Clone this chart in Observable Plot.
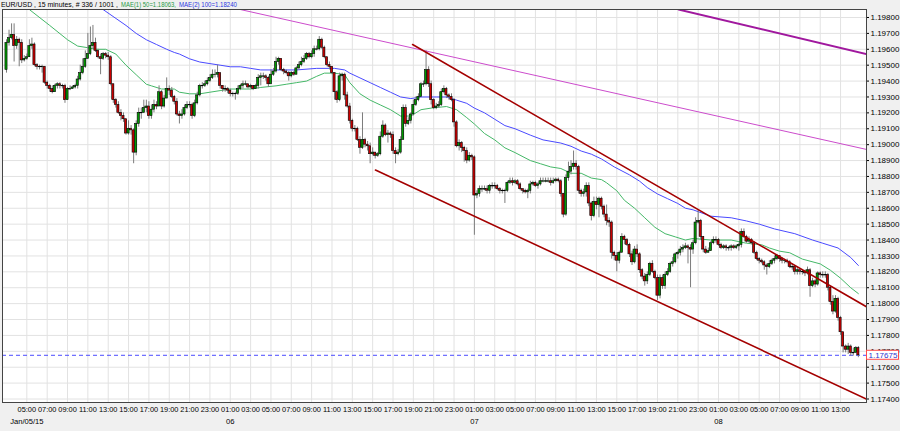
<!DOCTYPE html>
<html><head><meta charset="utf-8">
<script src="https://cdn.jsdelivr.net/npm/d3@7"></script>
<script src="https://cdn.jsdelivr.net/npm/@observablehq/plot@0.6"></script>
<style>
html,body{margin:0;padding:0;background:#f0f0f0;}
#chart{width:900px;height:431px;}
</style></head><body><div id="chart"></div>
<script>
// ---- data (EUR/USD, 15-minute candles, 336 bars) ----
const firstOpen = 1.1947;
const closes = [
1.1964,1.1967,1.1969,1.1962,1.1966,1.1964,1.1953,1.1954,1.1955,1.1962,
1.1963,1.1950,1.1949,1.1949,1.1949,1.1939,1.1937,1.1935,1.1933,1.1937,
1.1938,1.1937,1.1937,1.1928,1.1935,1.1935,1.1936,1.1937,1.1941,1.1945,
1.1949,1.1954,1.1957,1.1962,1.1964,1.1959,1.1955,1.1954,1.1957,1.1956,
1.1955,1.1938,1.1928,1.1925,1.1920,1.1918,1.1916,1.1907,1.1910,1.1909,
1.1895,1.1913,1.1920,1.1920,1.1923,1.1924,1.1918,1.1922,1.1925,1.1924,
1.1933,1.1924,1.1929,1.1935,1.1934,1.1930,1.1927,1.1919,1.1918,1.1919,
1.1923,1.1925,1.1925,1.1918,1.1926,1.1931,1.1937,1.1937,1.1938,1.1940,
1.1942,1.1944,1.1944,1.1945,1.1937,1.1935,1.1935,1.1934,1.1932,1.1932,
1.1932,1.1935,1.1937,1.1938,1.1938,1.1936,1.1937,1.1935,1.1937,1.1942,
1.1943,1.1943,1.1942,1.1938,1.1944,1.1946,1.1952,1.1954,1.1947,1.1946,
1.1945,1.1943,1.1945,1.1944,1.1948,1.1950,1.1952,1.1954,1.1957,1.1955,
1.1957,1.1960,1.1960,1.1966,1.1961,1.1955,1.1950,1.1949,1.1945,1.1933,
1.1928,1.1943,1.1944,1.1931,1.1924,1.1915,1.1910,1.1910,1.1903,1.1898,
1.1903,1.1900,1.1899,1.1894,1.1895,1.1893,1.1894,1.1905,1.1912,1.1906,
1.1907,1.1906,1.1896,1.1894,1.1895,1.1903,1.1923,1.1913,1.1915,1.1919,
1.1925,1.1928,1.1930,1.1938,1.1938,1.1947,1.1938,1.1928,1.1923,1.1924,
1.1925,1.1933,1.1935,1.1931,1.1930,1.1928,1.1914,1.1899,1.1901,1.1898,
1.1896,1.1890,1.1893,1.1892,1.1868,1.1869,1.1872,1.1872,1.1872,1.1871,
1.1874,1.1874,1.1874,1.1872,1.1871,1.1871,1.1871,1.1876,1.1877,1.1876,
1.1877,1.1875,1.1872,1.1871,1.1870,1.1871,1.1875,1.1876,1.1874,1.1875,
1.1877,1.1877,1.1877,1.1877,1.1876,1.1877,1.1878,1.1877,1.1869,1.1856,
1.1879,1.1883,1.1886,1.1888,1.1886,1.1871,1.1869,1.1870,1.1874,1.1863,
1.1855,1.1864,1.1862,1.1866,1.1861,1.1856,1.1852,1.1851,1.1832,1.1830,
1.1827,1.1832,1.1842,1.1840,1.1837,1.1831,1.1826,1.1834,1.1831,1.1821,
1.1817,1.1814,1.1818,1.1825,1.1820,1.1816,1.1805,1.1816,1.1811,1.1818,
1.1820,1.1825,1.1826,1.1831,1.1832,1.1834,1.1835,1.1836,1.1835,1.1834,
1.1838,1.1851,1.1852,1.1842,1.1834,1.1832,1.1833,1.1838,1.1840,1.1840,
1.1837,1.1835,1.1836,1.1835,1.1835,1.1836,1.1835,1.1836,1.1837,1.1845,
1.1842,1.1839,1.1840,1.1838,1.1832,1.1828,1.1827,1.1826,1.1824,1.1823,
1.1825,1.1827,1.1828,1.1830,1.1828,1.1827,1.1827,1.1826,1.1823,1.1823,
1.1820,1.1821,1.1820,1.1820,1.1819,1.1821,1.1811,1.1814,1.1812,1.1819,
1.1818,1.1818,1.1818,1.1810,1.1801,1.1795,1.1803,1.1791,1.1782,1.1773,
1.1771,1.1773,1.1769,1.1769,1.1772,1.17675];
const highs = [
1.1966,1.1972,1.1976,1.1976,1.1968,1.1967,1.1966,1.1956,1.1957,1.1966,
1.1967,1.1964,1.1951,1.1950,1.1950,1.1949,1.1940,1.1938,1.1937,1.1938,
1.1939,1.1939,1.1938,1.1938,1.1936,1.1937,1.1937,1.1938,1.1943,1.1950,
1.1954,1.1959,1.1970,1.1974,1.1975,1.1967,1.1960,1.1957,1.1958,1.1958,
1.1958,1.1956,1.1938,1.1929,1.1927,1.1922,1.1920,1.1916,1.1915,1.1912,
1.1910,1.1915,1.1923,1.1923,1.1928,1.1928,1.1927,1.1925,1.1928,1.1927,
1.1937,1.1934,1.1931,1.1942,1.1937,1.1936,1.1931,1.1929,1.1921,1.1922,
1.1925,1.1927,1.1927,1.1926,1.1928,1.1933,1.1938,1.1939,1.1940,1.1942,
1.1944,1.1947,1.1947,1.1950,1.1945,1.1937,1.1937,1.1936,1.1935,1.1933,
1.1933,1.1937,1.1938,1.1940,1.1940,1.1938,1.1938,1.1937,1.1938,1.1944,
1.1945,1.1945,1.1944,1.1943,1.1947,1.1948,1.1955,1.1955,1.1954,1.1948,
1.1947,1.1946,1.1946,1.1946,1.1949,1.1952,1.1955,1.1956,1.1958,1.1958,
1.1959,1.1962,1.1962,1.1968,1.1967,1.1962,1.1955,1.1952,1.1949,1.1945,
1.1934,1.1945,1.1945,1.1945,1.1933,1.1926,1.1916,1.1912,1.1911,1.1905,
1.1920,1.1904,1.1902,1.1901,1.1898,1.1895,1.1895,1.1908,1.1915,1.1913,
1.1909,1.1908,1.1908,1.1898,1.1897,1.1905,1.1925,1.1925,1.1917,1.1920,
1.1928,1.1930,1.1932,1.1939,1.1940,1.1959,1.1949,1.1940,1.1929,1.1926,
1.1927,1.1935,1.1937,1.1936,1.1932,1.1932,1.1929,1.1915,1.1903,1.1902,
1.1899,1.1898,1.1895,1.1894,1.1893,1.1871,1.1874,1.1874,1.1874,1.1874,
1.1875,1.1876,1.1876,1.1875,1.1873,1.1872,1.1872,1.1877,1.1879,1.1879,
1.1878,1.1878,1.1876,1.1872,1.1872,1.1872,1.1877,1.1877,1.1877,1.1876,
1.1879,1.1879,1.1879,1.1879,1.1879,1.1879,1.1879,1.1879,1.1878,1.1869,
1.1881,1.1889,1.1890,1.1896,1.1890,1.1887,1.1872,1.1872,1.1876,1.1876,
1.1864,1.1867,1.1867,1.1867,1.1867,1.1862,1.1862,1.1854,1.1852,1.1833,
1.1832,1.1833,1.1844,1.1843,1.1841,1.1838,1.1833,1.1836,1.1837,1.1832,
1.1822,1.1819,1.1820,1.1826,1.1827,1.1821,1.1818,1.1818,1.1818,1.1820,
1.1822,1.1826,1.1829,1.1832,1.1833,1.1836,1.1837,1.1838,1.1837,1.1837,
1.1840,1.1854,1.1859,1.1853,1.1842,1.1836,1.1835,1.1839,1.1842,1.1842,
1.1841,1.1838,1.1837,1.1837,1.1836,1.1837,1.1837,1.1837,1.1838,1.1847,
1.1847,1.1843,1.1842,1.1841,1.1839,1.1833,1.1829,1.1828,1.1827,1.1825,
1.1827,1.1828,1.1830,1.1831,1.1830,1.1829,1.1828,1.1828,1.1827,1.1825,
1.1824,1.1823,1.1821,1.1821,1.1821,1.1823,1.1822,1.1816,1.1815,1.1820,
1.1820,1.1820,1.1820,1.1819,1.1811,1.1805,1.1805,1.1804,1.1792,1.1782,
1.1774,1.1775,1.1774,1.1772,1.1773,1.1773];
const lows = [
1.1945,1.1962,1.1966,1.1952,1.1960,1.1949,1.1951,1.1952,1.1953,1.1955,
1.1960,1.1949,1.1947,1.1947,1.1945,1.1938,1.1935,1.1933,1.1932,1.1933,
1.1935,1.1935,1.1935,1.1926,1.1928,1.1934,1.1935,1.1935,1.1935,1.1940,
1.1944,1.1948,1.1954,1.1956,1.1960,1.1958,1.1954,1.1944,1.1953,1.1954,
1.1953,1.1937,1.1926,1.1923,1.1919,1.1915,1.1914,1.1906,1.1906,1.1906,
1.1888,1.1893,1.1911,1.1916,1.1920,1.1920,1.1916,1.1916,1.1920,1.1922,
1.1924,1.1922,1.1923,1.1929,1.1931,1.1929,1.1925,1.1918,1.1913,1.1916,
1.1918,1.1922,1.1923,1.1916,1.1917,1.1925,1.1930,1.1935,1.1936,1.1937,
1.1939,1.1941,1.1942,1.1942,1.1935,1.1933,1.1933,1.1932,1.1930,1.1930,
1.1928,1.1931,1.1934,1.1935,1.1937,1.1935,1.1935,1.1934,1.1935,1.1935,
1.1937,1.1941,1.1940,1.1936,1.1938,1.1943,1.1945,1.1950,1.1946,1.1944,
1.1944,1.1940,1.1942,1.1943,1.1944,1.1947,1.1949,1.1951,1.1953,1.1954,
1.1954,1.1955,1.1959,1.1959,1.1960,1.1954,1.1949,1.1947,1.1944,1.1928,
1.1926,1.1927,1.1940,1.1928,1.1923,1.1913,1.1908,1.1908,1.1902,1.1894,
1.1897,1.1898,1.1896,1.1888,1.1893,1.1891,1.1892,1.1893,1.1904,1.1905,
1.1901,1.1904,1.1894,1.1888,1.1893,1.1894,1.1903,1.1911,1.1912,1.1913,
1.1918,1.1924,1.1927,1.1930,1.1936,1.1937,1.1936,1.1925,1.1922,1.1922,
1.1923,1.1924,1.1932,1.1929,1.1928,1.1927,1.1911,1.1898,1.1896,1.1895,
1.1889,1.1888,1.1889,1.1890,1.1843,1.1866,1.1867,1.1870,1.1871,1.1869,
1.1869,1.1872,1.1872,1.1871,1.1869,1.1869,1.1863,1.1870,1.1875,1.1874,
1.1875,1.1874,1.1871,1.1869,1.1869,1.1866,1.1869,1.1874,1.1873,1.1872,
1.1874,1.1876,1.1876,1.1876,1.1874,1.1875,1.1876,1.1876,1.1867,1.1854,
1.1855,1.1877,1.1881,1.1884,1.1884,1.1869,1.1867,1.1867,1.1867,1.1861,
1.1852,1.1854,1.1859,1.1854,1.1859,1.1854,1.1849,1.1848,1.1828,1.1827,
1.1820,1.1825,1.1832,1.1837,1.1836,1.1829,1.1824,1.1825,1.1829,1.1819,
1.1815,1.1811,1.1812,1.1817,1.1819,1.1815,1.1802,1.1803,1.1809,1.1809,
1.1817,1.1819,1.1823,1.1825,1.1828,1.1830,1.1832,1.1834,1.1825,1.1810,
1.1831,1.1837,1.1850,1.1840,1.1832,1.1831,1.1832,1.1833,1.1837,1.1838,
1.1836,1.1834,1.1834,1.1833,1.1833,1.1833,1.1834,1.1834,1.1833,1.1835,
1.1841,1.1838,1.1838,1.1837,1.1831,1.1827,1.1825,1.1825,1.1821,1.1818,
1.1822,1.1824,1.1825,1.1827,1.1826,1.1825,1.1825,1.1825,1.1822,1.1821,
1.1818,1.1818,1.1818,1.1818,1.1817,1.1818,1.1804,1.1810,1.1810,1.1811,
1.1816,1.1816,1.1816,1.1808,1.1799,1.1793,1.1794,1.1789,1.1780,1.1769,
1.1769,1.1768,1.1767,1.1767,1.1769,1.1766];

// moving averages (bar index, value)
const ma50Idx = [6,9,17,24,28,32,35,39,43,47,51,55,57,61,66,68,72,76,80,84,88,92,96,100,106,110,114,118,122,125,129,133,135,139,143,147,151,155,159,163,167,173,177,181,184,188,192,196,200,206,210,214,218,222,226,230,234,236,240,243,247,251,255,259,263,267,270,277,285,291,297,300,304,308,313,320,324,328,332,335];
const ma50Val = [1.1990,1.1985,1.1975,1.1966,1.1962,1.1961,1.1960,1.1960,1.1957,1.1950,1.1944,1.1938,1.1937,1.1935,1.1935,1.1933,1.1932,1.1932,1.1933,1.1934,1.1935,1.1935,1.1935,1.1936,1.1937,1.1938,1.1939,1.1940,1.1943,1.1945,1.1945,1.1944,1.1939,1.1932,1.1928,1.1925,1.1922,1.1918,1.1918,1.1922,1.1923,1.1924,1.1922,1.1917,1.1913,1.1907,1.1903,1.1898,1.1895,1.1890,1.1888,1.1886,1.1885,1.1882,1.1882,1.1879,1.1878,1.1876,1.1871,1.1865,1.1860,1.1854,1.1848,1.1844,1.1842,1.1840,1.1841,1.1840,1.1840,1.1838,1.1837,1.1835,1.1833,1.1832,1.1828,1.1825,1.1821,1.1816,1.1810,1.18063];
const ma100Idx = [34,38,47,51,55,59,63,66,68,72,76,80,84,88,92,96,100,106,114,122,129,133,135,139,143,147,151,155,159,163,169,173,177,181,184,188,192,196,200,206,211,218,222,226,230,234,239,245,249,252,256,260,264,267,270,277,285,291,296,302,310,317,321,327,332,335];
const ma100Val = [1.1990,1.1985,1.1975,1.1970,1.1966,1.1963,1.1960,1.1958,1.1957,1.1954,1.1952,1.1951,1.1950,1.1949,1.1949,1.1948,1.1947,1.1947,1.1947,1.1948,1.1948,1.1947,1.1945,1.1942,1.1939,1.1936,1.1933,1.1930,1.1929,1.1930,1.1930,1.1930,1.1928,1.1926,1.1923,1.1920,1.1916,1.1912,1.1910,1.1906,1.1903,1.1901,1.1899,1.1896,1.1894,1.1891,1.1886,1.1881,1.1877,1.1873,1.1869,1.1866,1.1863,1.1860,1.1859,1.1855,1.1854,1.1852,1.1850,1.1847,1.1844,1.1840,1.1838,1.1835,1.1829,1.1824];

// drawn trend lines (bar index at ends, price at ends)
const trendNames  = ["thinMagenta","thickPurple","upperRed","lowerRed"];
const trendIdx0   = [92, 264.3, 159.7, 145.1];
const trendIdx1   = [338.2, 338.2, 338.2, 338.2];
const trendP0     = [1.1985, 1.1985, 1.1963, 1.1884];
const trendP1     = [1.1897, 1.1957, 1.1798, 1.1740];
const trendColor  = ["#cc4ccc", "#a0189e", "#a40000", "#a40000"];
const trendWidth  = [1, 2, 1.6, 1.6];

const lastPrice = 1.17675;
const yTicks = [1.174,1.175,1.176,1.177,1.178,1.179,1.180,1.181,1.182,1.183,1.184,1.185,1.186,1.187,1.188,1.189,1.190,1.191,1.192,1.193,1.194,1.195,1.196,1.197,1.198];
const hourLabels = ["05:00","07:00","09:00","11:00","13:00","15:00","17:00","19:00","21:00","23:00",
 "01:00","03:00","05:00","07:00","09:00","11:00","13:00","15:00","17:00","19:00","21:00","23:00",
 "01:00","03:00","05:00","07:00","09:00","11:00","13:00","15:00","17:00","19:00","21:00","23:00",
 "01:00","03:00","05:00","07:00","09:00","11:00","13:00"];
const barsPerLabel = 8; // 2 hours of 15-minute bars
const firstLabelBar = 8;
const dateLabels = ["Jan/05/15","06","07","08"];
const dateLabelHour = [0, 10, 22, 34]; // position in hourLabels
const headerParts = ["EUR/USD , 15 minutes, # 336 / 1001 ,", "MAE(1) 50=1.18063,", "MAE(2) 100=1.18240"];

// ---- build tables ----
const candles = closes.map((c, i) => {
  const o = i === 0 ? firstOpen : closes[i - 1];
  return {i, open: o, close: c, high: Math.max(highs[i], o, c), low: Math.min(lows[i], o, c)};
});
const ma50 = ma50Idx.map((i, k) => ({i, v: ma50Val[k]}));
const ma100 = ma100Idx.map((i, k) => ({i, v: ma100Val[k]}));
const trends = trendNames.flatMap((n, k) => [
  {n, i: trendIdx0[k], p: trendP0[k]}, {n, i: trendIdx1[k], p: trendP1[k]}]);
const hourTicks = hourLabels.map((l, k) => ({i: firstLabelBar + k * barsPerLabel, l}));
const dateTicks = dateLabels.map((l, k) => ({i: hourTicks[dateLabelHour[k]].i, l}));

const FONT = "'Liberation Sans', Arial, sans-serif";
const GREEN = "#009a00", RED = "#cc0000";

const chart = Plot.plot({
  width: 900, height: 431,
  marginLeft: 2, marginRight: 34, marginTop: 9, marginBottom: 29,
  style: {background: "#f0f0f0", fontFamily: FONT, fontSize: "8px", color: "#000"},
  x: {domain: [-1.57, 338.2], axis: null},
  y: {domain: [1.17378, 1.198503], axis: null},
  marks: [
    Plot.frame({fill: "white"}),
    Plot.ruleY(yTicks, {stroke: "#e2e2e2"}),
    Plot.ruleX(hourTicks, {x: "i", stroke: "#e2e2e2"}),
    Plot.line(ma100, {x: "i", y: "v", stroke: "#4a4aff", strokeWidth: 1, clip: true}),
    Plot.line(ma50, {x: "i", y: "v", stroke: "#45b868", strokeWidth: 1, clip: true}),
    Plot.ruleY([lastPrice], {stroke: "#4a4aff", strokeDasharray: "4,3"}),
    Plot.ruleX(candles, {x: "i", y1: "low", y2: "high", stroke: "#7c7c7c", strokeWidth: 1}),
    Plot.rect(candles, {
      x1: d => d.i - 0.42, x2: d => d.i + 0.42,
      y1: "open", y2: d => d.close === d.open ? d.close - 0.00003 : d.close,
      fill: d => d.close >= d.open ? GREEN : RED,
      stroke: "#000", strokeWidth: 0.6
    }),
    Plot.line(trends, {x: "i", y: "p", z: "n",
      stroke: d => trendColor[trendNames.indexOf(d.n)],
      strokeWidth: d => trendWidth[trendNames.indexOf(d.n)], clip: true}),
    Plot.frame({stroke: "#444"}),
    Plot.axisY(yTicks, {anchor: "right", tickFormat: d => d.toFixed(5), tickSize: 2, tickPadding: 2, fontSize: 8}),
    Plot.text(hourTicks, {x: "i", text: "l", frameAnchor: "bottom", dy: 7, lineAnchor: "middle", fontSize: 7.4, fill: "#000"}),
    Plot.text(dateTicks, {x: "i", text: "l", frameAnchor: "bottom", dy: 19, lineAnchor: "middle", fontSize: 7.6, fill: "#000"})
  ]
});
document.getElementById("chart").appendChild(chart);

// header line (three coloured parts)
const svg = d3.select(chart);
const hx = [1, 121, 179], hw = [117, 55, 58], hc = ["#000", "#1f9a45", "#2a36e0"];
headerParts.forEach((t, k) => {
  svg.append("text").attr("x", hx[k]).attr("y", 7.2).attr("text-anchor", "start")
    .attr("font-family", FONT).attr("font-size", 6.4).attr("fill", hc[k])
    .attr("textLength", hw[k]).attr("lengthAdjust", "spacingAndGlyphs").text(t);
});
// last-price box on the right axis
const yl = chart.scale("y").apply(lastPrice);
svg.append("rect").attr("x", 866.5).attr("y", yl - 4.5).attr("width", 32).attr("height", 9)
  .attr("fill", "white").attr("stroke", "#ff4a4a").attr("stroke-width", 1);
svg.append("text").attr("x", 868.5).attr("y", yl + 3).attr("text-anchor", "start")
  .attr("font-family", FONT).attr("font-size", 8).attr("fill", "#2a36d0").text(lastPrice.toFixed(5));
</script></body></html>
